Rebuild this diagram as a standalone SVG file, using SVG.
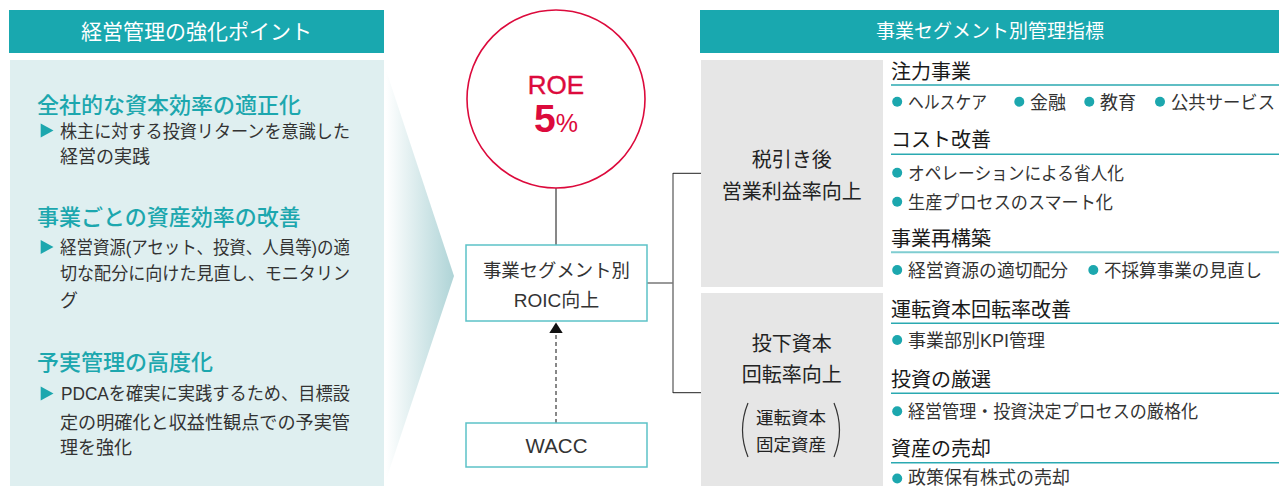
<svg xmlns="http://www.w3.org/2000/svg" width="1279" height="486" viewBox="0 0 1279 486">
<defs>
<linearGradient id="chev" x1="0" y1="0" x2="1" y2="0">
<stop offset="0" stop-color="#ffffff"/>
<stop offset="1" stop-color="#afd4d7"/>
</linearGradient>
<style>
.hdr{fill:#19a8af}
.hdrt{font-family:"Liberation Sans","Noto Sans CJK JP",sans-serif;fill:#fff;text-anchor:middle}
.lh{font-family:"Noto Sans CJK JP",sans-serif;font-size:22px;font-weight:500;fill:#1ca7ae}
.lb{font-family:"Liberation Sans","Noto Sans CJK JP",sans-serif;font-size:18px;fill:#333}
.tri{fill:#1ca7ae}
.box{fill:#fff;stroke:#5cc2c7;stroke-width:1.5}
.bt{font-family:"Liberation Sans","Noto Sans CJK JP",sans-serif;fill:#333;text-anchor:middle}
.gray{fill:#e6e6e6}
.gt{font-family:"Noto Sans CJK JP",sans-serif;fill:#222;text-anchor:middle}
.rh{font-family:"Noto Sans CJK JP",sans-serif;font-size:20px;fill:#1a1a1a}
.ri{font-family:"Liberation Sans","Noto Sans CJK JP",sans-serif;font-size:18px;fill:#333}
.ul{stroke:#2aa9b1;stroke-width:1.5}
.dot{fill:#1ca7ae}
.roe{font-family:"Liberation Sans",sans-serif;fill:#dc0a3c;text-anchor:middle}
</style>
</defs>

<g id="left-header">
<rect class="hdr" x="9" y="10" width="375" height="43"/>
<text class="hdrt" x="196.5" y="38.7" font-size="21">経営管理の強化ポイント</text>
</g>

<g id="left-panel">
<rect x="10" y="60" width="374" height="426" fill="#dfeff0"/>
<polygon points="386,70 454,276 386,480" fill="url(#chev)"/>
<text class="lh" x="37" y="113.4">全社的な資本効率の適正化</text>
<polygon class="tri" points="40.7,123.5 53.5,130.5 40.7,137.5"/>
<text class="lb" x="60" y="137.6" textLength="290" lengthAdjust="spacingAndGlyphs">株主に対する投資リターンを意識した</text>
<text class="lb" x="60" y="163.3">経営の実践</text>
<text class="lh" x="37" y="225">事業ごとの資産効率の改善</text>
<polygon class="tri" points="40.7,240 53.5,247 40.7,254"/>
<text class="lb" x="60" y="253.5" textLength="290" lengthAdjust="spacingAndGlyphs">経営資源(アセット、投資、人員等)の適</text>
<text class="lb" x="60" y="280" textLength="290" lengthAdjust="spacingAndGlyphs">切な配分に向けた見直し、モニタリン</text>
<text class="lb" x="60" y="306.8">グ</text>
<text class="lh" x="37" y="370">予実管理の高度化</text>
<polygon class="tri" points="40.7,386.5 53.5,393.5 40.7,400.5"/>
<text class="lb" x="61" y="400" textLength="289" lengthAdjust="spacingAndGlyphs">PDCAを確実に実践するため、目標設</text>
<text class="lb" x="60" y="428.5" textLength="290" lengthAdjust="spacingAndGlyphs">定の明確化と収益性観点での予実管</text>
<text class="lb" x="60" y="454">理を強化</text>
</g>

<g id="connectors" fill="none">
<line x1="556" y1="188" x2="556" y2="245" stroke="#111" stroke-width="1"/>
<line x1="556" y1="423" x2="556" y2="333" stroke="#111" stroke-width="1" stroke-dasharray="4,3"/>
<polygon points="556,322.5 549.3,333 562.7,333" fill="#111"/>
<polyline points="647,283 673,283" stroke="#777" stroke-width="1.5"/>
<line x1="673" y1="173" x2="673" y2="393" stroke="#777" stroke-width="1.5"/>
<line x1="673" y1="173.3" x2="701" y2="173.3" stroke="#222" stroke-width="1"/>
<line x1="673" y1="392.7" x2="701" y2="392.7" stroke="#222" stroke-width="1"/>
</g>

<g id="roe">
<circle cx="556" cy="99" r="89" fill="#fff" stroke="#dc0a3c" stroke-width="1.6"/>
<text class="roe" x="556" y="94" font-size="26" stroke="#dc0a3c" stroke-width="0.4">ROE</text>
<text class="roe" x="556" y="132"><tspan font-size="39" font-weight="bold">5</tspan><tspan font-size="25">%</tspan></text>
</g>

<g id="roic">
<rect class="box" x="466" y="245" width="181" height="76"/>
<text class="bt" x="556.5" y="276.8" font-size="18.5" textLength="147" lengthAdjust="spacingAndGlyphs">事業セグメント別</text>
<text class="bt" x="556.5" y="307" font-size="19">ROIC向上</text>
</g>

<g id="wacc">
<rect class="box" x="466" y="423" width="181" height="44"/>
<text class="bt" x="556.5" y="453" font-size="20.5">WACC</text>
</g>

<g id="right-header">
<rect class="hdr" x="700" y="10" width="579" height="43"/>
<text class="hdrt" x="990" y="38" font-size="19">事業セグメント別管理指標</text>
</g>

<g id="profit">
<rect class="gray" x="701" y="60" width="182" height="227"/>
<text class="gt" x="791.7" y="166.6" font-size="20">税引き後</text>
<text class="gt" x="791.7" y="199" font-size="20">営業利益率向上</text>
</g>

<g id="turnover">
<rect class="gray" x="701" y="293" width="182" height="193"/>
<text class="gt" x="791.7" y="350.7" font-size="20">投下資本</text>
<text class="gt" x="791.7" y="382.4" font-size="20">回転率向上</text>
<text class="gt" x="791" y="424" font-size="17.5">運転資本</text>
<text class="gt" x="791" y="451" font-size="17.5">固定資産</text>
<path d="M748,403 Q737,430 748,457" fill="none" stroke="#333" stroke-width="1.2"/>
<path d="M834,403 Q845,430 834,457" fill="none" stroke="#333" stroke-width="1.2"/>
</g>

<g id="focus">
<text class="rh" x="891" y="79">注力事業</text>
<line class="ul" x1="891" y1="85" x2="1279" y2="85"/>
<circle class="dot" cx="897.2" cy="101.7" r="5"/>
<text class="ri" x="908" y="108.5" textLength="79" lengthAdjust="spacingAndGlyphs">ヘルスケア</text>
<circle class="dot" cx="1019.3" cy="101.7" r="5"/>
<text class="ri" x="1030" y="108.5">金融</text>
<circle class="dot" cx="1089.3" cy="101.7" r="5"/>
<text class="ri" x="1100" y="108.5">教育</text>
<circle class="dot" cx="1160" cy="101.7" r="5"/>
<text class="ri" x="1171" y="108.5" textLength="104" lengthAdjust="spacingAndGlyphs">公共サービス</text>
</g>

<g id="cost">
<text class="rh" x="891" y="147">コスト改善</text>
<line class="ul" x1="891" y1="154.3" x2="1279" y2="154.3"/>
<circle class="dot" cx="897.2" cy="172.7" r="5"/>
<text class="ri" x="908" y="179.5" textLength="216" lengthAdjust="spacingAndGlyphs">オペレーションによる省人化</text>
<circle class="dot" cx="897.2" cy="201.7" r="5"/>
<text class="ri" x="908" y="208.5" textLength="205" lengthAdjust="spacingAndGlyphs">生産プロセスのスマート化</text>
</g>

<g id="restructure">
<text class="rh" x="891" y="246">事業再構築</text>
<line x1="891" y1="252.3" x2="1279" y2="252.3" stroke="#7fcdd1" stroke-width="2"/>
<circle class="dot" cx="897.2" cy="270" r="5"/>
<text class="ri" x="908" y="277" textLength="160" lengthAdjust="spacingAndGlyphs">経営資源の適切配分</text>
<circle class="dot" cx="1093.3" cy="270" r="5"/>
<text class="ri" x="1104" y="277" textLength="158" lengthAdjust="spacingAndGlyphs">不採算事業の見直し</text>
</g>

<g id="working-capital">
<text class="rh" x="891" y="316.5">運転資本回転率改善</text>
<line class="ul" x1="891" y1="323.3" x2="1279" y2="323.3"/>
<circle class="dot" cx="897.2" cy="340" r="5"/>
<text class="ri" x="908" y="347">事業部別KPI管理</text>
</g>

<g id="investment">
<text class="rh" x="891" y="386.5">投資の厳選</text>
<line class="ul" x1="891" y1="393.3" x2="1279" y2="393.3"/>
<circle class="dot" cx="897.2" cy="411.3" r="5"/>
<text class="ri" x="908" y="418" textLength="290" lengthAdjust="spacingAndGlyphs">経営管理・投資決定プロセスの厳格化</text>
</g>

<g id="divest">
<text class="rh" x="891" y="455.5">資産の売却</text>
<line class="ul" x1="891" y1="462.7" x2="1279" y2="462.7"/>
<circle class="dot" cx="897.2" cy="478.5" r="5"/>
<text class="ri" x="908" y="483.5">政策保有株式の売却</text>
</g>
</svg>
